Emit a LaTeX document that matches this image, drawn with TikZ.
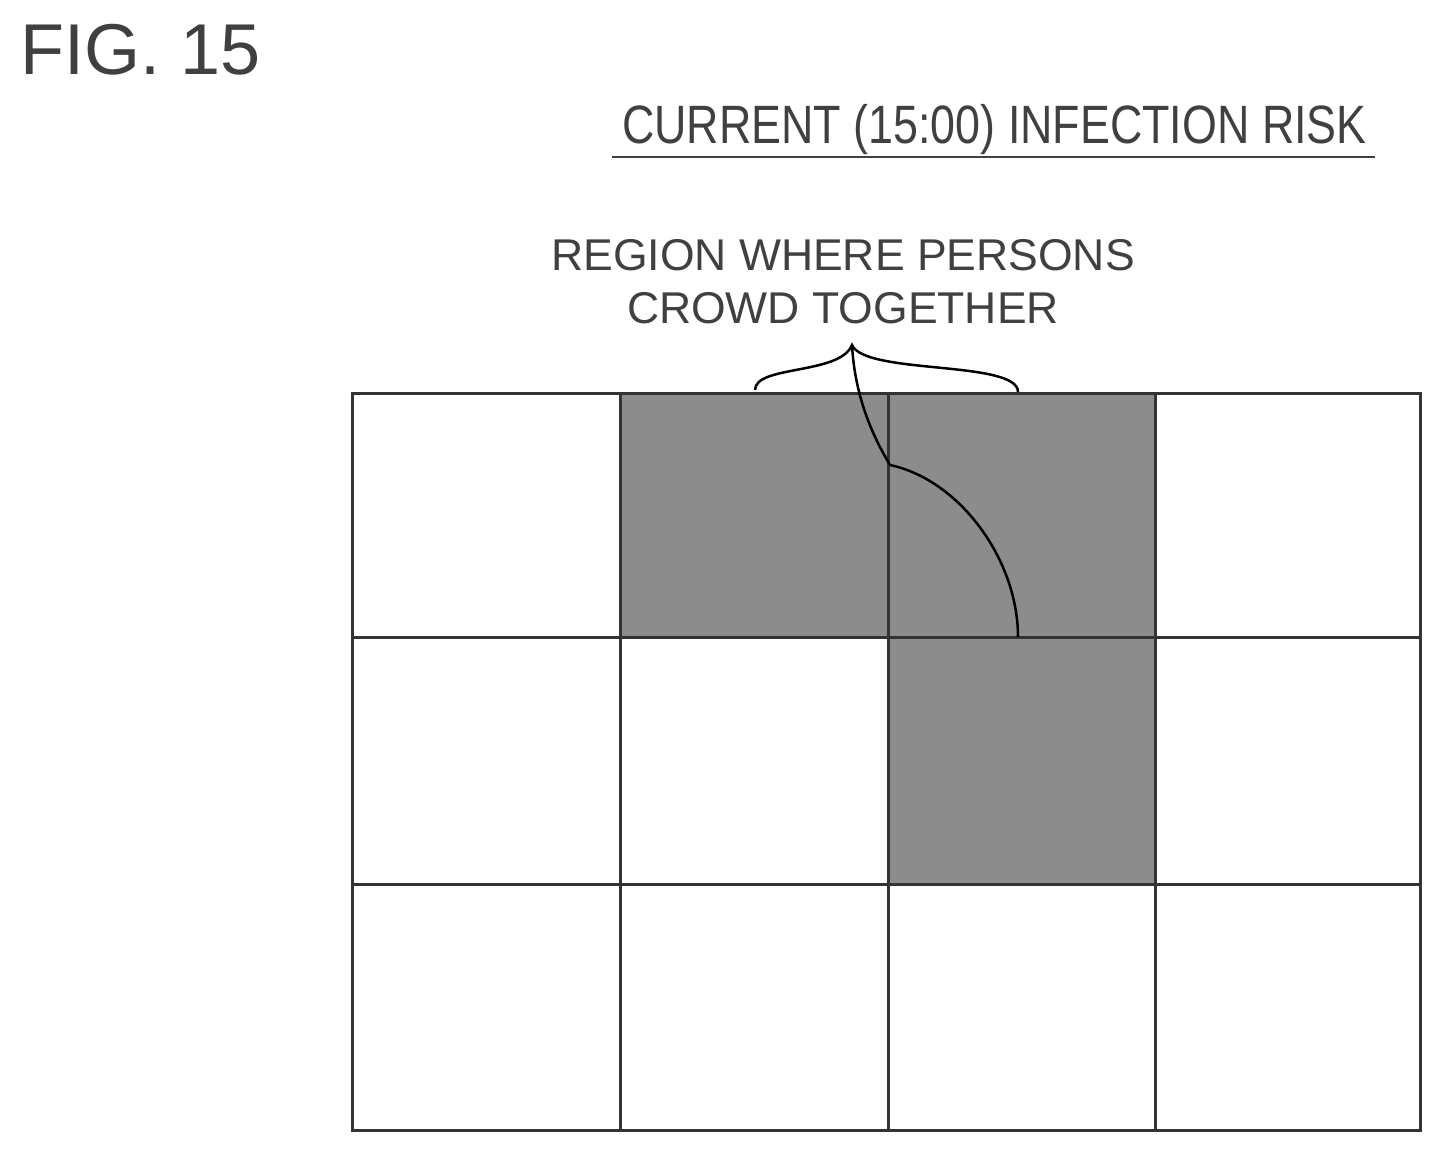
\documentclass[tikz,border=0pt]{standalone}
\usepackage{fontspec}
\setmainfont{Liberation Sans}
\usetikzlibrary{patterns}
\begin{document}
\begin{tikzpicture}[x=1pt,y=-1pt,
  gridline/.style={line width=3pt,draw=black!80},
  hatch/.style={fill=black!45},
  lbl/.style={inner sep=0pt,font=\fontsize{44}{50}\selectfont,text=black!75}]
\useasboundingbox (0,0) rectangle (1445,1155);
\node[lbl,anchor=west,font=\fontsize{72}{78}\selectfont] (fig) at (20,50) {FIG. 15};
\node[lbl,anchor=west,xscale=0.83,font=\fontsize{54}{60}\selectfont] (title) at (622,130) {CURRENT (15:00) INFECTION RISK};
\draw[line width=2.5pt,black!75] (612,157) -- (1375,157);
\node[lbl,align=center,font=\fontsize{44.5}{53}\selectfont] (reg) at (843,282) {REGION WHERE PERSONS\\CROWD TOGETHER};
\foreach \a/\b/\c/\d in {620/393/888/637, 888/393/1155/637, 888/637/1155/884}
  \fill[hatch] (\a,\b) rectangle (\c,\d);
\foreach \xx in {620,888,1155} \draw[gridline] (\xx,393) -- (\xx,1130);
\foreach \yy in {637,884} \draw[gridline] (352,\yy) -- (1420,\yy);
\draw[gridline] (352,393) rectangle (1420,1130);
\coordinate (tip) at (852,345);
\draw[line width=2.5pt] (755,390) .. controls (755,365) and (840,375) .. (tip)
  .. controls (865,375) and (1018,360) .. (1018,392);
\draw[line width=2.5pt] (tip) .. controls (855,400) and (875,440) .. (890,465)
  .. controls (960,480) and (1018,560) .. (1018,637);
\end{tikzpicture}
\end{document}
